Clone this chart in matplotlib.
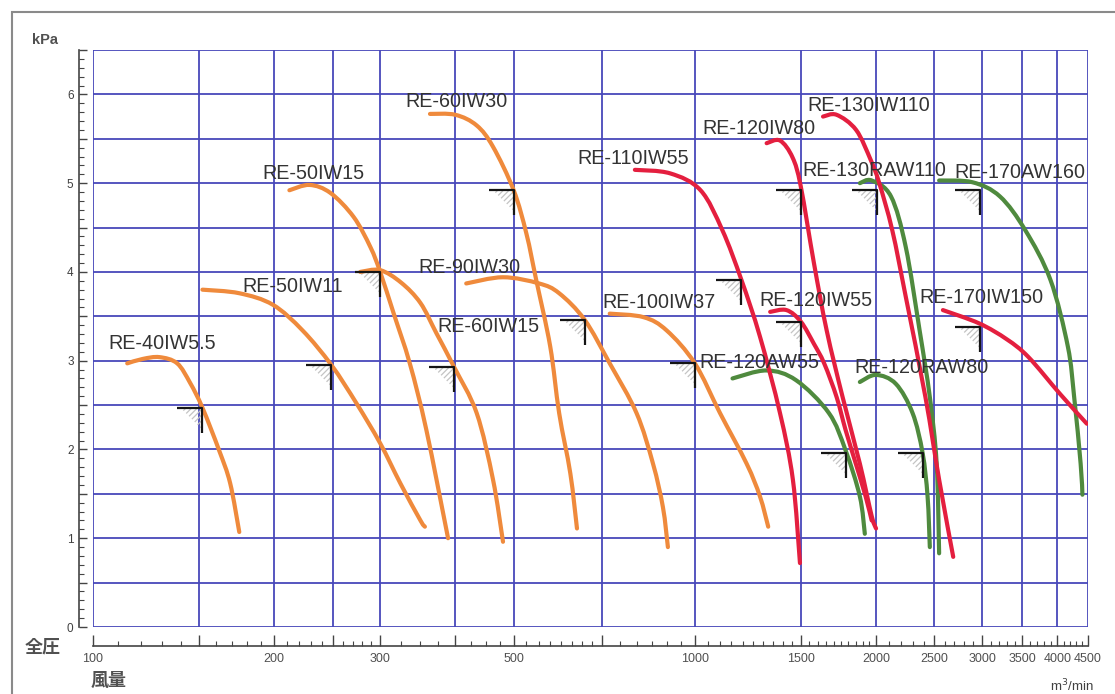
import numpy as np
import matplotlib
matplotlib.use("Agg")
import matplotlib.pyplot as plt
from matplotlib.path import Path
from matplotlib.patches import Rectangle, PathPatch
from matplotlib.ticker import FixedLocator, FixedFormatter, NullFormatter

# fan curves: air volume (m3/min) vs total pressure (kPa)
re40iw55_x = [114, 121, 129, 138, 145, 152, 162, 169, 175]
re40iw55_y = [2.97, 3.02, 3.04, 2.97, 2.75, 2.47, 1.99, 1.62, 1.07]
re50iw11_x = [152, 175, 199, 223, 249, 274, 300, 324, 350, 356]
re50iw11_y = [3.80, 3.76, 3.63, 3.34, 2.95, 2.52, 2.07, 1.62, 1.20, 1.13]
re50iw15_x = [212, 229, 248, 271, 289, 300, 316, 336, 358, 389]
re50iw15_y = [4.92, 4.98, 4.89, 4.62, 4.28, 4.00, 3.53, 2.97, 2.22, 1.00]
re60iw15_x = [278, 300, 325, 350, 372, 398, 434, 462, 480]
re60iw15_y = [4.00, 4.02, 3.88, 3.65, 3.31, 2.93, 2.41, 1.66, 0.96]
re60iw30_x = [363, 400, 434, 462, 500, 525, 545, 575, 595, 621, 637]
re60iw30_y = [5.78, 5.77, 5.65, 5.41, 4.92, 4.43, 3.91, 3.16, 2.41, 1.73, 1.11]
re90iw30_x = [417, 480, 551, 595, 656, 722, 800, 852, 885, 902]
re90iw30_y = [3.87, 3.94, 3.87, 3.76, 3.46, 2.97, 2.41, 1.84, 1.35, 0.90]
re100iw37_x = [722, 822, 898, 1000, 1101, 1219, 1283, 1324]
re100iw37_y = [3.53, 3.49, 3.34, 2.97, 2.41, 1.84, 1.47, 1.13]
re110iw55_x = [795, 910, 1022, 1111, 1195, 1283, 1385, 1455, 1495]
re110iw55_y = [5.15, 5.11, 4.92, 4.47, 3.91, 3.27, 2.41, 1.66, 0.72]
re120iw80_x = [1316, 1385, 1453, 1500, 1577, 1656, 1760, 1880, 1967, 2000]
re120iw80_y = [5.45, 5.48, 5.29, 4.96, 4.10, 3.34, 2.59, 1.84, 1.25, 1.11]
re120iw55_x = [1334, 1420, 1500, 1577, 1640, 1720, 1780, 1851, 1922, 1967]
re120iw55_y = [3.55, 3.57, 3.44, 3.19, 2.97, 2.59, 2.22, 1.84, 1.47, 1.20]
re130iw110_x = [1633, 1720, 1853, 1960, 2025, 2128, 2241, 2416, 2546, 2687]
re130iw110_y = [5.75, 5.77, 5.60, 5.26, 5.00, 4.47, 3.72, 2.59, 1.66, 0.79]
re170iw150_x = [2583, 2968, 3300, 3584, 4050, 4480]
re170iw150_y = [3.57, 3.42, 3.24, 3.04, 2.62, 2.29]
re120aw55_x = [1155, 1316, 1473, 1670, 1780, 1880, 1916]
re120aw55_y = [2.80, 2.89, 2.78, 2.41, 1.99, 1.47, 1.05]
re120raw80_x = [1880, 2000, 2157, 2300, 2390, 2436, 2457]
re120raw80_y = [2.76, 2.84, 2.74, 2.41, 1.96, 1.47, 0.90]
re130raw110_x = [1880, 1967, 2118, 2241, 2363, 2457, 2522, 2546]
re130raw110_y = [5.00, 5.03, 4.85, 4.28, 3.34, 2.59, 1.84, 0.83]
re170aw160_x = [2546, 2893, 3213, 3540, 3898, 4166, 4268, 4375, 4405]
re170aw160_y = [5.03, 5.01, 4.85, 4.47, 3.91, 3.16, 2.59, 1.84, 1.49]

# rated operating points (corner marks)
op_x = [152, 249, 300, 398, 500, 656, 1000, 1195, 1500, 1500, 2007, 1780, 2395, 2974, 2974]
op_y = [2.47, 2.95, 4.00, 2.93, 4.92, 3.46, 2.97, 3.91, 4.92, 3.44, 4.92, 1.96, 1.96, 4.92, 3.38]

# labels: name, x (m3/min, left edge), y (kPa, centre)
label_names = ["RE-40IW5.5", "RE-50IW11", "RE-50IW15", "RE-60IW30", "RE-90IW30",
               "RE-60IW15", "RE-100IW37", "RE-110IW55", "RE-120IW80", "RE-130IW110",
               "RE-130RAW110", "RE-170AW160", "RE-120IW55", "RE-170IW150",
               "RE-120AW55", "RE-120RAW80"]
label_x = [106, 177, 191, 331, 347, 373, 703, 639, 1031, 1540, 1511, 2703, 1282, 2365, 1019, 1844]
label_y = [3.19, 3.84, 5.11, 5.92, 4.05, 3.39, 3.66, 5.28, 5.62, 5.88, 5.14, 5.12, 3.68, 3.71, 2.98, 2.92]

x_grid = [100, 150, 200, 250, 300, 400, 500, 700, 1000, 1500, 2000, 2500, 3000, 3500, 4000, 4500]
x_labels = {100: "100", 200: "200", 300: "300", 500: "500", 1000: "1000", 1500: "1500",
            2000: "2000", 2500: "2500", 3000: "3000", 3500: "3500", 4000: "4000", 4500: "4500"}
x_minor = (list(range(110, 200, 10)) + list(range(210, 300, 10)) + [325, 350, 375, 425, 450, 475]
           + list(range(525, 700, 25)) + list(range(750, 1000, 50)) + list(range(1050, 1500, 50))
           + list(range(1550, 2000, 50)) + list(range(2100, 2500, 100)) + list(range(2600, 3000, 100))
           + list(range(3100, 3500, 100)) + list(range(3600, 4000, 100)) + list(range(4100, 4500, 100)))

ORANGE = "#EF8A3C"
RED = "#E41F3F"
GREEN = "#4F8A3E"
GRID = "#4848BA"

curves = [
    (re40iw55_x, re40iw55_y, ORANGE), (re50iw11_x, re50iw11_y, ORANGE),
    (re50iw15_x, re50iw15_y, ORANGE), (re60iw15_x, re60iw15_y, ORANGE),
    (re60iw30_x, re60iw30_y, ORANGE), (re90iw30_x, re90iw30_y, ORANGE),
    (re100iw37_x, re100iw37_y, ORANGE),
    (re120aw55_x, re120aw55_y, GREEN), (re120raw80_x, re120raw80_y, GREEN),
    (re130raw110_x, re130raw110_y, GREEN), (re170aw160_x, re170aw160_y, GREEN),
    (re110iw55_x, re110iw55_y, RED), (re120iw80_x, re120iw80_y, RED),
    (re120iw55_x, re120iw55_y, RED), (re130iw110_x, re130iw110_y, RED),
    (re170iw150_x, re170iw150_y, RED),
]


def smooth_path(xs, ys):
    # Catmull-Rom through the read points, as cubic Bezier segments in log-x space
    p = np.column_stack([np.log10(xs), ys])
    p = np.vstack([p[0], p, p[-1]])
    verts = [p[1]]
    codes = [Path.MOVETO]
    for i in range(1, len(p) - 2):
        c1 = p[i] + (p[i + 1] - p[i - 1]) / 6
        c2 = p[i + 1] - (p[i + 2] - p[i]) / 6
        verts += [c1, c2, p[i + 1]]
        codes += [Path.CURVE4] * 3
    verts = np.array(verts)
    verts[:, 0] = 10 ** verts[:, 0]
    return Path(verts, codes)


def corner_paths():
    corner = Path([(-1, 0), (0, 0), (0, -1)], [Path.MOVETO, Path.LINETO, Path.LINETO])
    verts, codes = [], []
    for c in np.linspace(-0.8, 0.8, 7):
        if c >= 0:
            a, b = ((c - 1) / 2, (-c - 1) / 2), (0, -c)
        else:
            a, b = ((c - 1) / 2, (-1 - c) / 2), (c, 0)
        verts += [a, b]
        codes += [Path.MOVETO, Path.LINETO]
    verts += [(-1, -1), (-1, -1)]
    codes += [Path.MOVETO, Path.LINETO]
    hatch = Path(np.array(verts) * 0.85, codes)
    return corner, hatch


def main():
    fig = plt.figure(figsize=(11.15, 6.94), dpi=100)
    W, H = 1115, 694
    ax = fig.add_axes([93 / W, (H - 627) / H, (1088 - 93) / W, (627 - 50) / H])
    ax.set_xscale("log")
    ax.set_xlim(100, 4500)
    ax.set_ylim(0, 6.5)

    # figure frame
    fig.patches.append(Rectangle((12 / W, -0.05), 1.2, 1 - 12 / H + 0.05, transform=fig.transFigure,
                                 fill=False, edgecolor="#8a8a8a", linewidth=1.5))

    for x, y, col in curves:
        ax.add_patch(PathPatch(smooth_path(x, y), fill=False, edgecolor=col, lw=3.0,
                               capstyle="round", joinstyle="round", zorder=3))

    corner, hatch = corner_paths()
    ax.plot(op_x, op_y, ls="none", marker=hatch, markersize=36 * 0.85, markeredgecolor="#c4c4c4",
            markeredgewidth=0.9, zorder=2)
    ax.plot(op_x, op_y, ls="none", marker=corner, markersize=36, markerfacecolor="none",
            markeredgecolor="#151515", markeredgewidth=1.6, zorder=4)

    for name, xd, y in zip(label_names, label_x, label_y):
        ax.text(xd, y, name, fontsize=14.2, color="#333333", family="Liberation Sans",
                ha="left", va="center", zorder=5)

    # grid
    ax.xaxis.set_major_locator(FixedLocator(x_grid))
    ax.xaxis.set_major_formatter(FixedFormatter([x_labels.get(v, "") for v in x_grid]))
    ax.xaxis.set_minor_locator(FixedLocator(x_minor))
    ax.xaxis.set_minor_formatter(NullFormatter())
    y_major = np.arange(0, 6.51, 0.5)
    ax.yaxis.set_major_locator(FixedLocator(y_major))
    ax.yaxis.set_major_formatter(FixedFormatter(["%d" % v if v == int(v) else "" for v in y_major]))
    ax.yaxis.set_minor_locator(FixedLocator(np.arange(0, 6.51, 0.1)))
    ax.grid(True, which="major", color=GRID, lw=1.3, zorder=1)
    for v, line in zip(x_grid, ax.get_xgridlines()):
        line.set_clip_on(False)
        if v == 700:
            line.set_color("#8cc8ec")
    for line in ax.get_ygridlines():
        line.set_clip_on(False)

    for s in ["top", "right"]:
        ax.spines[s].set_visible(False)
    ax.spines["left"].set_position(("outward", 10))
    ax.spines["bottom"].set_position(("outward", 13.5))
    for s in ["left", "bottom"]:
        ax.spines[s].set_color("#444444")
        ax.spines[s].set_linewidth(1.2)
    ax.tick_params(axis="x", which="major", direction="in", length=8, width=1.0, color="#444444",
                   labelsize=9, labelcolor="#505050", pad=5)
    ax.tick_params(axis="x", which="minor", direction="in", length=3.5, width=0.8, color="#444444")
    ax.tick_params(axis="y", which="major", direction="in", length=6, width=1.0, color="#444444",
                   labelsize=8.5, labelcolor="#404040", pad=4)
    ax.tick_params(axis="y", which="minor", direction="in", length=3.5, width=0.8, color="#444444")
    for t in ax.get_xticklabels() + ax.get_yticklabels():
        t.set_family("Liberation Sans")

    fig.text(45 / W, 1 - 40 / H, "kPa", fontsize=10.5, fontweight="bold", color="#505050",
             ha="center", va="center", family="Liberation Sans")
    fig.text(43 / W, 1 - 647 / H, "全圧", fontsize=13, fontweight="bold", color="#505050",
             ha="center", va="center", family=["Noto Sans CJK JP", "DejaVu Sans"])
    fig.text(109 / W, 1 - 680 / H, "風量", fontsize=13, fontweight="bold", color="#505050",
             ha="center", va="center", family=["Noto Sans CJK JP", "DejaVu Sans"])
    fig.text(1072 / W, 1 - 686 / H, "m$^3$/min", fontsize=9.5, color="#404040",
             ha="center", va="center", family="Liberation Sans")

    fig.savefig("out.png", dpi=100)


if __name__ == "__main__":
    main()
